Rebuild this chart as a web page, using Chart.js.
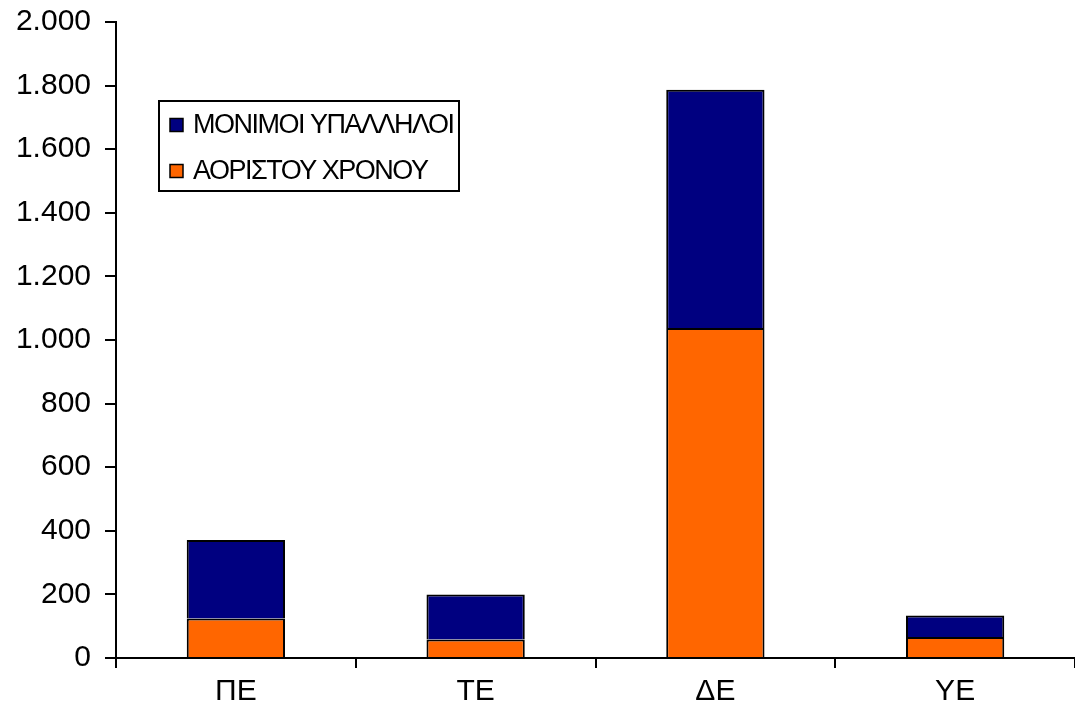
<!DOCTYPE html>
<html>
<head>
<meta charset="utf-8">
<script src="https://cdn.jsdelivr.net/npm/chart.js@4/dist/chart.umd.min.js"></script>
<style>
html,body{margin:0;padding:0;background:#fff;}
#wrap{width:1075px;height:721px;position:relative;}
</style>
</head>
<body>
<div id="wrap"><canvas id="c" width="1075" height="721"></canvas></div>
<script>
const categories = ['ΠΕ', 'ΤΕ', 'ΔΕ', 'ΥΕ'];
const seriesNames = ['ΑΟΡΙΣΤΟΥ ΧΡΟΝΟΥ', 'ΜΟΝΙΜΟΙ ΥΠΑΛΛΗΛΟΙ'];
const aoristou = [124, 58, 1038, 66];
const monimoi = [247, 142, 749, 68];
const yTicks = [0, 200, 400, 600, 800, 1000, 1200, 1400, 1600, 1800, 2000];

const FONT = "'Liberation Sans', Arial, sans-serif";

function fmt(v) {
  const s = String(Math.round(v));
  return s.replace(/\B(?=(\d{3})+(?!\d))/g, '.');
}

const legendPlugin = {
  id: 'boxLegend',
  afterDraw(chart) {
    const ctx = chart.ctx;
    ctx.save();
    const x0 = 159, y0 = 101, w = 300, h = 90;
    ctx.fillStyle = '#fff';
    ctx.fillRect(x0, y0, w, h);
    ctx.lineWidth = 2;
    ctx.strokeStyle = '#000';
    ctx.strokeRect(x0, y0, w, h);
    const items = [
      { label: seriesNames[1], color: chart.data.datasets[1].backgroundColor, y: 125 },
      { label: seriesNames[0], color: chart.data.datasets[0].backgroundColor, y: 171 }
    ];
    ctx.font = '27px ' + FONT;
    if ('letterSpacing' in ctx) ctx.letterSpacing = '-1.5px';
    ctx.textBaseline = 'middle';
    ctx.textAlign = 'left';
    items.forEach(it => {
      ctx.fillStyle = it.color;
      ctx.fillRect(170, it.y - 6.5, 13, 13);
      ctx.lineWidth = 1.5;
      ctx.strokeStyle = '#000';
      ctx.strokeRect(170, it.y - 6.5, 13, 13);
      ctx.fillStyle = '#000';
      ctx.fillText(it.label, 193, it.y + 1);
    });
    ctx.restore();
  }
};

new Chart(document.getElementById('c'), {
  type: 'bar',
  data: {
    labels: categories,
    datasets: [
      { label: seriesNames[0], data: aoristou, backgroundColor: '#FF6600', borderColor: '#000', borderWidth: 2 },
      { label: seriesNames[1], data: monimoi, backgroundColor: '#000080', borderColor: '#000', borderWidth: 2 }
    ]
  },
  options: {
    responsive: false,
    animation: false,
    devicePixelRatio: 1,
    layout: { padding: { top: 22, right: 0, left: 0, bottom: 0 } },
    datasets: { bar: { categoryPercentage: 1, barPercentage: 0.41 } },
    plugins: { legend: { display: false }, tooltip: { enabled: false } },
    scales: {
      x: {
        stacked: true,
        grid: { drawOnChartArea: false, drawTicks: true, tickLength: 10, color: '#000', lineWidth: 2 },
        border: { display: true, color: '#000', width: 2 },
        ticks: { color: '#000', font: { family: FONT, size: 30 }, padding: 6 },
        afterFit(s) { s.height = 63; s.paddingLeft = 0; s.paddingRight = 0; }
      },
      y: {
        stacked: true,
        min: 0, max: 2000,
        afterBuildTicks(s) { s.ticks = yTicks.map(v => ({ value: v })); },
        grid: { drawOnChartArea: false, drawTicks: true, tickLength: 11, color: '#000', lineWidth: 2 },
        border: { display: true, color: '#000', width: 2 },
        ticks: { color: '#000', font: { family: FONT, size: 30 }, padding: 14, callback: v => fmt(v) },
        afterFit(s) { s.width = 116; s.paddingTop = 0; s.paddingBottom = 0; }
      }
    }
  },
  plugins: [legendPlugin]
});
</script>
</body>
</html>
